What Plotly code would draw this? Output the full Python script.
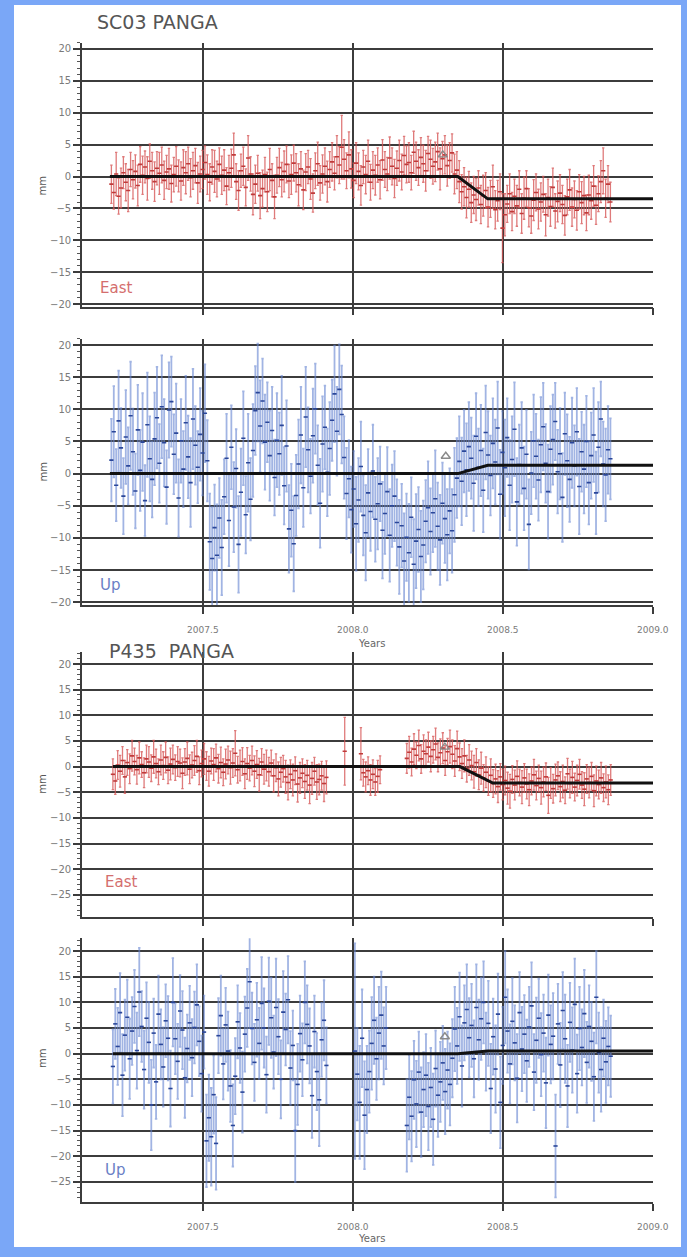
import numpy as np
import plotly.graph_objects as go

# ---------------------------------------------------------------------------
# Daily GPS position residuals (mm), decimated to one solution every STEP yr
# ---------------------------------------------------------------------------
STEP = 0.008

# ---- SC03 ----------------------------------------------------------------
SC03_START = 2007.195
SC03_EAST = [
    -1.2, -2.5, 0.4, -3.1, -1.8, 0.6, -0.9, -2.2, 1.1, -0.5,
    0.8, -1.4, 1.9, 0.2, 1.5, -0.3, 2.4, 0.9, -0.8, 1.3,
    0.5, 1.8, -0.6, 0.7, 1.2, -1.1, 0.3, 1.6, 0.1, -0.7,
    1.4, 0.6, 2.0, -0.2, 0.9, 1.7, -1.0, 0.4, 1.1, 2.2,
    0.3, -0.9, 1.5, 0.8, -0.4, 1.9, 0.2, 1.0, -1.5, 0.6,
    1.3, 3.4, -0.8, -2.2, 0.9, 1.6, -1.7, 2.9, 0.4, -2.8,
    -1.2, 0.5, -3.0, -1.9, 0.3, -2.4, 1.1, -0.6, -3.2, 0.2,
    1.4, -0.5, 0.8, 1.9, -0.7, 0.3, 2.1, 0.6, -1.3, 1.2,
    -2.1, 0.7, 1.5, -0.4, -2.6, 0.9, 2.0, -1.0, 0.4, 1.6,
    -0.8, 1.1, 2.3, 0.5, 3.1, 1.8, 4.6, 2.7, 0.9, 3.4,
    1.2, -0.6, 2.1, 0.8, -1.4, 1.5, 0.3, 2.4, -0.9, 1.0,
    0.2, 1.8, -0.5, 2.6, 1.1, 0.4, 2.9, 1.6, -0.3, 1.3,
    2.5, 0.7, 3.3, 1.9, 2.2, 0.6, 3.8, 2.4, 1.4, 3.0,
    2.0, 0.9, 3.6, 2.7, 1.6, 2.3, 3.9, 1.2, 2.8, 3.4,
    1.7, 2.5, 3.7, 0.4, 1.0, -0.8, -2.4, -1.6, -3.3, -2.0,
    -4.1, -2.9, -3.6, -1.8, -4.4, -3.0, -2.2, -4.8, -3.5, -1.6,
    -5.2, -3.8, -2.4, -8.1, -6.0, -4.3, -2.7, -5.5, -3.1, -4.6,
    -2.0, -5.8, -3.4, -1.9, -4.9, -6.2, -3.7, -2.5, -5.1, -4.0,
    -2.8, -6.0, -3.3, -4.7, -1.7, -5.4, -3.9, -2.6, -4.4, -6.1,
    -3.2, -2.1, -4.8, -3.6, -5.3, -2.4, -4.1, -3.0, -5.7, -2.9,
    -3.8, -1.5, -4.5, -2.7, -0.8, 0.9, -3.4, -1.2, -4.0,
]
SC03_EAST_SIG = [
    3.0, 2.6, 3.4, 2.8, 3.1, 2.5, 2.9, 3.3, 2.7, 3.0,
    2.6, 3.2, 2.8, 3.0, 2.5, 3.4, 2.7, 2.9, 3.1, 2.6,
    3.3, 2.8, 3.0, 2.6, 3.2, 2.9, 2.7, 3.1, 2.5, 3.0,
    2.8, 3.3, 2.6, 3.0, 2.9, 2.7, 3.2, 2.8, 3.0, 2.6,
    3.1, 2.9, 2.7, 3.3, 2.8, 2.6, 3.0, 3.2, 2.9, 2.7,
    3.0, 3.4, 2.8, 3.1, 2.6, 3.0, 2.9, 3.5, 2.7, 3.2,
    3.0, 2.8, 3.6, 2.9, 2.7, 3.1, 3.3, 2.6, 3.4, 2.8,
    3.0, 2.7, 3.2, 2.9, 2.6, 3.1, 2.8, 3.0, 3.3, 2.7,
    3.1, 2.9, 2.6, 3.2, 3.0, 2.8, 3.4, 2.7, 3.0, 2.9,
    3.2, 2.8, 3.0, 2.6, 3.3, 2.9, 5.0, 3.1, 2.8, 3.6,
    3.0, 2.7, 3.2, 2.9, 3.1, 2.6, 3.0, 3.3, 2.8, 2.9,
    3.1, 2.7, 3.0, 3.2, 2.8, 2.6, 3.3, 2.9, 3.0, 2.7,
    3.2, 2.8, 3.0, 2.9, 3.1, 2.7, 3.3, 3.0, 2.8, 3.1,
    2.9, 3.2, 2.7, 3.0, 2.8, 3.1, 2.9, 3.3, 2.7, 3.0,
    3.2, 2.8, 3.0, 3.1, 2.9, 3.3, 2.7, 3.0, 3.2, 2.8,
    3.1, 2.9, 3.3, 2.7, 3.0, 3.2, 2.8, 3.1, 2.9, 3.4,
    3.0, 3.2, 2.8, 5.4, 3.3, 2.9, 3.1, 3.0, 2.7, 3.2,
    2.9, 3.1, 3.3, 2.8, 3.0, 2.7, 3.2, 2.9, 3.1, 3.0,
    2.8, 3.3, 2.9, 3.1, 3.0, 2.7, 3.2, 2.9, 3.0, 3.1,
    2.8, 3.2, 3.0, 2.9, 3.1, 2.7, 3.3, 3.0, 2.8, 3.1,
    2.9, 3.2, 3.0, 2.8, 3.3, 3.6, 3.0, 2.9, 3.1,
]
SC03_UP = [
    2.1, 6.5, -1.8, 8.2, 4.0, -3.5, 5.7, 1.2, 9.0, 3.4,
    -2.7, 6.8, 0.5, 4.9, -4.2, 7.6, 2.3, -0.9, 5.4, 8.7,
    1.6, 10.4, 4.8, -2.1, 9.9, 11.2, 3.0, 6.3, -3.8, 5.1,
    0.7, 7.9, 2.6, -1.4, 8.5, 4.4, 1.0, 6.1, 3.2, 9.4,
    2.0, -10.6, -13.2, -8.4, -12.7, -6.9, -11.5, -3.6, 2.4, -7.3,
    4.1, -5.2, 0.8, -11.0, -2.9, 5.5, -6.4, 1.7, -4.0, 3.6,
    9.8, 12.6, 7.4, 11.3, 4.9, 8.0, 2.8, 6.7, -0.6, 5.2,
    3.1, 7.5, -1.9, 4.3, -8.6, -5.7, -10.9, -3.4, 1.5, 6.0,
    -2.2, 8.8, 3.7, -0.4, 5.9, 10.1, 1.3, -4.6, 4.6, 7.2,
    0.2, 3.9, 8.3, 12.4, 6.6, 13.1, 9.2, 2.5, -3.1, -0.8,
    -5.6, -2.4, -7.8, -4.1, 1.1, -6.5, -9.2, -3.0, -5.9, 0.4,
    -7.1, -4.7, -1.6, -8.8, -6.2, -2.8, -9.6, -5.0, -3.5, -7.6,
    -11.4, -8.1, -13.6, -9.9, -12.3, -6.8, -14.1, -10.5, -8.7, -12.9,
    -11.1, -7.4, -5.3, -9.0, -6.1, -3.9, -8.2, -10.3, -4.6, -7.0,
    -9.5, -5.8, -8.9, -3.3, -0.7, 1.9, -1.2, 3.5, 0.6, 4.2,
    2.4, -1.5, 5.8, 1.0, 3.6, -2.6, 6.4, 2.9, -0.3, 4.7,
    1.8, 7.1, -3.2, 3.3, 0.9, 5.6, -1.8, 2.2, 6.9, -4.4,
    1.4, 4.0, -2.3, 3.0, -7.9, 0.1, 5.1, 2.7, -1.0, 4.5,
    7.3, 1.6, -2.8, 3.8, 5.3, 8.1, 0.3, 3.1, -3.7, 6.2,
    2.0, -0.9, 4.8, 1.2, 6.5, -2.0, 3.4, 0.7, 5.0, -1.4,
    2.8, 6.0, -3.0, 4.1, 8.5, 1.5, -0.2, 3.7, 2.3,
]
SC03_UP_SIG = [
    6.4, 7.1, 5.6, 7.8, 6.2, 5.9, 7.3, 6.0, 8.4, 6.7,
    5.8, 7.0, 6.3, 7.6, 5.5, 8.1, 6.6, 5.9, 7.2, 7.9,
    6.1, 8.0, 6.8, 5.7, 7.4, 7.0, 6.2, 7.7, 6.0, 6.5,
    5.9, 7.3, 6.4, 6.9, 7.8, 6.1, 5.6, 7.2, 6.6, 7.6,
    6.3, 7.5, 8.0, 6.7, 7.9, 6.2, 7.4, 5.8, 6.9, 7.1,
    6.5, 7.0, 6.1, 7.5, 6.8, 7.3, 6.0, 7.6, 6.4, 7.2,
    6.9, 7.6, 7.1, 6.6, 7.4, 6.2, 7.0, 6.8, 5.9, 7.3,
    6.4, 7.7, 6.0, 7.1, 6.8, 7.2, 7.4, 6.3, 6.9, 7.5,
    6.1, 7.8, 6.6, 5.8, 7.3, 7.0, 6.2, 6.9, 7.4, 6.5,
    6.8, 7.2, 6.3, 7.5, 6.9, 7.0, 7.6, 6.4, 7.1, 6.0,
    6.7, 5.9, 7.3, 6.5, 7.0, 6.2, 7.4, 6.8, 6.1, 7.2,
    6.6, 7.1, 5.8, 7.5, 6.3, 6.9, 7.2, 6.4, 7.0, 6.7,
    7.3, 6.5, 7.4, 6.8, 7.6, 6.2, 7.0, 7.3, 6.6, 7.1,
    6.9, 6.4, 7.2, 6.7, 6.1, 7.5, 6.8, 7.0, 6.3, 6.9,
    7.1, 6.6, 6.5, 7.3, 6.2, 7.0, 6.8, 6.4, 7.2, 6.9,
    6.3, 7.4, 6.7, 6.0, 7.1, 6.5, 7.3, 6.8, 6.2, 7.0,
    6.6, 7.2, 6.9, 6.4, 7.5, 6.1, 7.0, 6.7, 7.3, 6.8,
    6.2, 7.1, 6.5, 6.9, 7.0, 6.4, 7.2, 6.6, 6.3, 7.4,
    6.8, 6.1, 7.3, 6.7, 7.0, 6.0, 6.5, 7.1, 6.9, 6.4,
    7.2, 6.6, 7.0, 6.3, 6.8, 7.4, 6.2, 6.9, 7.1, 6.5,
    6.7, 7.3, 6.4, 7.0, 5.8, 6.6, 7.2, 6.8, 6.3,
]

# ---- P435 (segments separated by data gaps) ------------------------------
P435_EAST_A = [
    -1.5, -2.8, 0.3, -0.9, 1.2, -2.0, 0.8, -0.4, 2.1, 1.0,
    -0.6, 1.7, 0.4, -1.2, 1.5, 0.9, -0.3, 1.9, 0.6, -1.0,
    1.3, 0.2, 1.8, -0.7, 0.5, 1.4, -0.2, 1.0, 0.7, -1.3,
    0.9, 1.6, -0.5, 0.3, 1.2, 2.0, -0.8, 0.6, 1.5, 0.1,
    -0.9, 1.1, 0.4, 1.7, -0.4, 0.8, -1.1, 0.5, 1.3, -0.2,
    0.7, 2.6, -0.6, 0.2, 1.0, -1.4, 0.6, -0.3, 1.2, -0.9,
    0.4, -1.6, 0.9, -0.5, 0.2, -1.0, 0.7, -1.8, -0.2, -2.4,
    -1.1, -0.4, -2.0, -3.1, -1.5, -2.6, -0.8, -3.4, -2.2, -1.3,
    -2.9, -1.7, -3.6, -2.3, -0.9, -3.0, -2.5, -1.8, -3.3, -2.1,
]
P435_EAST_A_SIG = [
    3.0, 2.6, 2.8, 3.1, 2.7, 3.2, 2.5, 2.9, 3.0, 2.6,
    2.8, 3.1, 2.5, 2.9, 2.7, 3.0, 2.6, 3.2, 2.8, 2.5,
    2.9, 2.7, 3.0, 2.6, 3.1, 2.8, 2.5, 2.9, 2.7, 3.0,
    2.6, 3.2, 2.8, 2.5, 2.9, 3.1, 2.7, 2.6, 3.0, 2.8,
    2.9, 2.5, 3.1, 2.7, 2.8, 3.0, 2.6, 2.9, 2.7, 3.2,
    2.8, 4.4, 2.6, 3.0, 2.7, 2.9, 3.1, 2.5, 2.8, 3.0,
    2.7, 3.2, 2.6, 2.9, 3.0, 2.8, 2.5, 3.1, 2.7, 3.3,
    2.9, 2.6, 3.2, 3.4, 2.8, 3.1, 2.7, 3.5, 3.0, 2.8,
    3.3, 2.9, 3.6, 3.1, 2.7, 3.4, 3.0, 2.8, 3.5, 3.2,
]
P435_EAST_B1 = [3.0]
P435_EAST_B1_SIG = [6.6]
P435_EAST_B2 = [2.5, -1.2, -2.0, -0.8, -2.6, -1.5, -3.0, -1.9, -0.6]
P435_EAST_B2_SIG = [5.1, 2.6, 2.9, 2.7, 3.0, 2.8, 2.6, 3.1, 2.7]
P435_EAST_C = [
    1.6, 2.8, 0.9, 3.4, 2.2, 4.1, 1.5, 3.0, 2.5, 3.8,
    2.0, 3.3, 4.4, 1.8, 2.7, 3.6, 1.2, 2.9, 3.9, 2.4,
    1.1, 3.5, 1.9, 0.6, 2.1, -0.4, 1.3, 0.2, -1.0, 0.8,
    -1.6, -0.3, -2.2, -1.1, -2.8, -1.7, -3.3, -2.4, -3.9, -2.0,
    -3.5, -2.7, -4.2, -4.8, -2.5, -3.6, -1.9, -3.1, -4.0, -2.2,
    -3.4, -4.5, -2.8, -1.6, -3.7, -2.3, -4.1, -3.0, -2.0, -5.6,
    -3.2, -4.3, -2.6, -1.8, -3.9, -2.9, -4.6, -1.4, -3.3, -2.1,
    -4.0, -2.7, -1.5, -3.6, -4.4, -2.4, -3.1, -1.9, -4.7, -2.8,
    -3.5, -2.2, -4.1, -3.0, -4.5, -2.6,
]
P435_EAST_C_SIG = [
    2.9, 3.1, 2.7, 3.0, 2.6, 3.0, 2.8, 3.2, 2.7, 2.9,
    3.0, 2.6, 3.1, 2.8, 2.7, 3.0, 2.9, 2.6, 3.2, 2.8,
    3.0, 3.4, 2.7, 2.9, 3.1, 2.6, 3.0, 2.8, 3.2, 2.7,
    2.9, 3.1, 2.6, 3.0, 2.8, 3.2, 2.7, 2.9, 3.1, 2.6,
    3.0, 2.8, 3.1, 3.3, 2.7, 2.9, 3.0, 2.6, 3.2, 2.8,
    2.9, 3.1, 2.7, 3.0, 2.8, 2.6, 3.2, 2.9, 2.7, 3.5,
    3.0, 2.8, 3.1, 2.7, 2.9, 3.2, 2.6, 3.0, 2.8, 3.1,
    2.7, 3.0, 2.9, 2.6, 3.2, 2.8, 3.0, 2.7, 3.1, 2.9,
    2.8, 3.0, 2.7, 3.1, 2.9, 3.0,
]

P435_UP_A = [
    -2.5, 5.8, 1.4, 8.0, -4.2, 3.6, 7.1, -1.0, 4.4, 9.2,
    0.6, 12.0, 5.3, -3.1, 6.9, 2.2, -10.0, 4.0, -5.5, 7.7,
    1.8, -2.6, 6.4, 3.0, -6.8, 10.0, 2.9, -1.5, 8.3, 4.6,
    -4.7, 1.0, 6.0, -0.8, 5.1, 9.5, 2.4, -3.9, 4.2, -17.0,
    -12.5, -16.2, -8.0, -17.5, 3.5, 7.4, -2.0, 5.6, 0.5, -6.3,
    -14.0, -4.4, 6.2, 1.1, -7.5, 3.8, 8.9, 14.0, 4.9, -1.7,
    6.6, 2.0, 9.8, 5.0, -4.1, 10.2, 7.0, 0.3, 9.0, 3.3,
    -5.0, 8.1, 4.7, 10.5, -2.8, 1.6, -15.0, -6.0, 3.9, -1.2,
    10.0, 5.7, 1.5, -8.2, 4.3, -3.5, -9.0, 2.7, 6.5, -2.3,
]
P435_UP_A_SIG = [
    7.2, 6.8, 7.5, 7.7, 8.0, 6.9, 7.3, 7.8, 6.6, 7.1,
    7.4, 8.6, 6.9, 7.6, 7.0, 7.9, 8.8, 6.7, 7.2, 7.5,
    6.8, 7.7, 7.1, 8.2, 7.4, 8.6, 6.9, 7.3, 7.0, 7.6,
    7.8, 6.6, 7.2, 7.5, 7.0, 7.9, 6.8, 7.4, 7.1, 9.0,
    8.4, 9.5, 7.6, 9.0, 7.3, 7.8, 6.9, 7.2, 7.7, 7.0,
    8.0, 7.4, 7.1, 6.8, 7.9, 7.3, 7.6, 9.0, 7.0, 7.5,
    7.2, 6.9, 9.0, 7.7, 7.4, 8.5, 7.8, 7.1, 9.5, 7.3,
    7.6, 8.0, 7.0, 8.5, 7.2, 6.8, 10.0, 7.9, 7.4, 7.1,
    8.0, 7.6, 7.3, 8.2, 7.0, 7.5, 9.0, 7.2, 7.8, 7.4,
]
P435_UP_B = [0.5, -4.0, -9.5, 3.0, -12.0, -7.0, -3.5, 2.0, 6.5, -1.0, 4.0, 7.5, 1.5, 5.0]
P435_UP_B_SIG = [21.0, 9.0, 11.0, 9.5, 10.5, 8.5, 8.0, 9.0, 8.5, 8.0, 9.0, 8.5, 7.5, 8.0]
P435_UP_C = [
    -14.0, -8.5, -12.2, -5.1, -9.8, -3.6, -11.4, -7.0, -4.2, -10.3,
    -6.6, -12.8, -2.9, -8.1, -5.5, -1.8, -7.4, -3.2, -6.0, -0.9,
    4.8, 1.5, 7.2, -2.4, 6.0, 8.6, 3.1, 5.5, -1.0, 9.0,
    2.7, 6.8, 10.0, 0.4, 5.9, -6.8, 3.3, -3.0, 7.7, -9.5,
    1.6, 11.0, 4.4, -2.0, 6.3, 2.1, -4.8, 8.0, 0.9, 3.8,
    -1.4, 5.2, 9.3, -3.6, 2.6, 6.9, -0.2, 4.0, -5.7, 7.5,
    1.8, 3.4, -18.0, 5.8, -2.2, 8.4, 2.9, -6.3, 6.1, 0.7,
    9.6, -3.9, 4.9, 1.2, 7.8, -1.7, 5.3, 2.4, -4.5, 11.0,
    0.2, -3.1, 3.0, -1.6, 1.4, -0.5,
]
P435_UP_C_SIG = [
    9.0, 8.2, 8.8, 7.6, 8.4, 7.9, 8.7, 7.3, 8.0, 8.5,
    7.7, 8.9, 7.4, 8.1, 7.8, 7.2, 8.3, 7.5, 8.0, 7.6,
    8.2, 7.4, 8.6, 7.9, 7.3, 8.8, 7.7, 8.1, 7.5, 8.4,
    7.8, 8.0, 8.0, 7.6, 8.3, 8.7, 7.4, 8.5, 7.9, 8.9,
    7.5, 9.0, 8.1, 7.7, 8.4, 7.3, 8.6, 7.9, 8.2, 7.6,
    8.0, 7.8, 8.5, 7.4, 8.3, 7.7, 8.1, 7.5, 8.8, 7.9,
    7.6, 8.4, 10.0, 7.8, 8.2, 7.5, 8.6, 8.0, 7.7, 8.3,
    8.9, 7.6, 8.1, 7.4, 8.5, 7.9, 8.0, 7.7, 8.6, 9.0,
    7.8, 8.2, 7.5, 8.0, 7.6, 7.9,
]

# segment start epochs (decimal years)
P435_EAST_SEGMENTS = [
    (2007.200, P435_EAST_A, P435_EAST_A_SIG),
    (2007.973, P435_EAST_B1, P435_EAST_B1_SIG),
    (2008.027, P435_EAST_B2, P435_EAST_B2_SIG),
    (2008.180, P435_EAST_C, P435_EAST_C_SIG),
]
P435_UP_SEGMENTS = [
    (2007.200, P435_UP_A, P435_UP_A_SIG),
    (2008.007, P435_UP_B, P435_UP_B_SIG),
    (2008.180, P435_UP_C, P435_UP_C_SIG),
]

# ---- fitted transient models (epoch, mm) ---------------------------------
SC03_EAST_MODEL_T = [2007.19, 2008.35, 2008.45, 2009.03]
SC03_EAST_MODEL = [0.0, 0.0, -3.5, -3.5]
SC03_UP_MODEL_T = [2007.19, 2008.35, 2008.45, 2009.03]
SC03_UP_MODEL = [0.0, 0.0, 1.3, 1.3]
P435_EAST_MODEL_T = [2007.20, 2008.357, 2008.467, 2009.03]
P435_EAST_MODEL = [0.0, 0.0, -3.2, -3.2]
P435_UP_MODEL_T = [2007.20, 2008.35, 2008.45, 2009.03]
P435_UP_MODEL = [0.0, 0.0, 0.5, 0.5]

# event markers (epoch, mm) per panel
EVENT_T = [2008.30, 2008.31, 2008.307, 2008.307]
EVENT_Y = [3.4, 2.7, 3.8, 3.3]

for vals, sig in [(SC03_EAST, SC03_EAST_SIG), (SC03_UP, SC03_UP_SIG)] + \
        [(v, s) for _, v, s in P435_EAST_SEGMENTS + P435_UP_SEGMENTS]:
    assert len(vals) == len(sig), (len(vals), len(sig))


def epochs(start, values):
    return start + STEP * np.arange(len(values))


def stack(segments):
    t, v, s = [], [], []
    for start, vals, sig in segments:
        t.extend(epochs(start, vals))
        v.extend(vals)
        s.extend(sig)
    return t, v, s


# ---------------------------------------------------------------------------
W, H = 687, 1257
def px(x):
    return x / W
def py(y):
    return 1 - y / H

RED_BAR = "rgba(214,84,84,0.78)"
RED_PT = "#c03a3a"
BLUE_BAR = "rgba(104,134,210,0.62)"
BLUE_PT = "#2a4699"
GRID = "#3c3c3c"
TICKTXT = "#7a7a7a"

panels = [
    dict(data=(list(epochs(SC03_START, SC03_EAST)), SC03_EAST, SC03_EAST_SIG),
         model=(SC03_EAST_MODEL_T, SC03_EAST_MODEL), bar=RED_BAR, pt=RED_PT,
         thick=1.3, yr=[-20.4, 21.0], top=42.6, bot=306.6, xlabels=False),
    dict(data=(list(epochs(SC03_START, SC03_UP)), SC03_UP, SC03_UP_SIG),
         model=(SC03_UP_MODEL_T, SC03_UP_MODEL), bar=BLUE_BAR, pt=BLUE_PT,
         thick=1.8, yr=[-20.5, 21.0], top=338.6, bot=605.4, xlabels=True),
    dict(data=stack(P435_EAST_SEGMENTS),
         model=(P435_EAST_MODEL_T, P435_EAST_MODEL), bar=RED_BAR, pt=RED_PT,
         thick=1.3, yr=[-29.3, 22.4], top=651.7, bot=916.9, xlabels=False),
    dict(data=stack(P435_UP_SEGMENTS),
         model=(P435_UP_MODEL_T, P435_UP_MODEL), bar=BLUE_BAR, pt=BLUE_PT,
         thick=1.8, yr=[-28.9, 22.5], top=938.2, bot=1201.9, xlabels=True),
]

XDOM = [px(82), px(653)]
XRANGE = [2007.097, 2009.001]

fig = go.Figure()
layout = dict(
    width=W, height=H, autosize=False,
    margin=dict(l=0, r=0, t=0, b=0, pad=0, autoexpand=False),
    paper_bgcolor="#7aa7f7",
    plot_bgcolor="white",
    showlegend=False,
    font=dict(family="DejaVu Sans", color="#666"),
    shapes=[dict(type="rect", xref="paper", yref="paper",
                 x0=px(14), x1=px(681), y0=py(1247), y1=py(5),
                 fillcolor="white", line=dict(width=0), layer="below")],
    annotations=[],
)

for k, p in enumerate(panels, start=1):
    xa, ya = f"x{k}", f"y{k}"
    t, v, s = p["data"]
    fig.add_trace(go.Scatter(
        x=t, y=v, xaxis=xa, yaxis=ya, mode="markers",
        marker=dict(symbol="line-ew", size=3,
                    line=dict(color=p["pt"], width=1.6)),
        error_y=dict(type="data", array=s, visible=True,
                     color=p["bar"], thickness=p["thick"], width=1.2),
        hoverinfo="skip"))
    fig.add_trace(go.Scatter(
        x=p["model"][0], y=p["model"][1], xaxis=xa, yaxis=ya, mode="lines",
        line=dict(color="#111111", width=3), hoverinfo="skip"))
    fig.add_trace(go.Scatter(
        x=[EVENT_T[k - 1]], y=[EVENT_Y[k - 1]], xaxis=xa, yaxis=ya,
        mode="markers",
        marker=dict(symbol="triangle-up-open", size=8, color="#8a8a8a",
                    line=dict(width=1.4)),
        hoverinfo="skip"))

    suffix = "" if k == 1 else str(k)
    layout["xaxis" + suffix] = dict(
        domain=XDOM, anchor=ya, range=XRANGE,
        tick0=2007.5, dtick=0.5, tickformat=".1f",
        showticklabels=p["xlabels"],
        tickfont=dict(size=9, color=TICKTXT),
        ticks="outside", ticklen=7, tickwidth=1.6, tickcolor=GRID,
        ticklabelstandoff=8,
        showgrid=True, gridcolor=GRID, gridwidth=1.6,
        showline=True, linecolor=GRID, linewidth=1.6,
        zeroline=False)
    layout["yaxis" + suffix] = dict(
        domain=[py(p["bot"]), py(p["top"])], anchor=xa, range=p["yr"],
        tick0=0, dtick=5,
        tickfont=dict(size=10, color=TICKTXT),
        ticks="outside", ticklen=7, tickwidth=1.6, tickcolor=GRID,
        minor=dict(tick0=0, dtick=1, ticks="outside", ticklen=3,
                   tickwidth=1, tickcolor="#555", showgrid=False),
        showgrid=True, gridcolor=GRID, gridwidth=1.6,
        showline=True, linecolor=GRID, linewidth=1.6,
        zeroline=False)

    mid = (p["top"] + p["bot"]) / 2
    layout["annotations"].append(dict(
        text="mm", x=px(35), y=py(mid), xref="paper", yref="paper",
        textangle=-90, showarrow=False, font=dict(size=10, color="#555")))

# component labels
for text, x, y, color in [("East", 98, 288, "#d46e6e"), ("Up", 98, 585, "#6a7fc6"),
                          ("East", 103, 882, "#d46e6e"), ("Up", 103, 1170, "#6a7fc6")]:
    layout["annotations"].append(dict(
        text=text, x=px(x), y=py(y), xref="paper", yref="paper",
        xanchor="left", yanchor="middle", showarrow=False,
        font=dict(size=15, color=color)))

# station titles and time-axis labels
for text, x, y in [("SC03 PANGA", 95, 22), ("P435\u00a0\u00a0PANGA", 107, 651)]:
    layout["annotations"].append(dict(
        text=text, x=px(x), y=py(y), xref="paper", yref="paper",
        xanchor="left", yanchor="middle", showarrow=False,
        font=dict(size=19, color="#555")))
for y in [643, 1238]:
    layout["annotations"].append(dict(
        text="Years", x=px(371), y=py(y), xref="paper", yref="paper",
        xanchor="center", yanchor="middle", showarrow=False,
        font=dict(size=10, color="#666")))

fig.update_layout(**layout)
fig.write_html("out.html", config={"responsive": False})
